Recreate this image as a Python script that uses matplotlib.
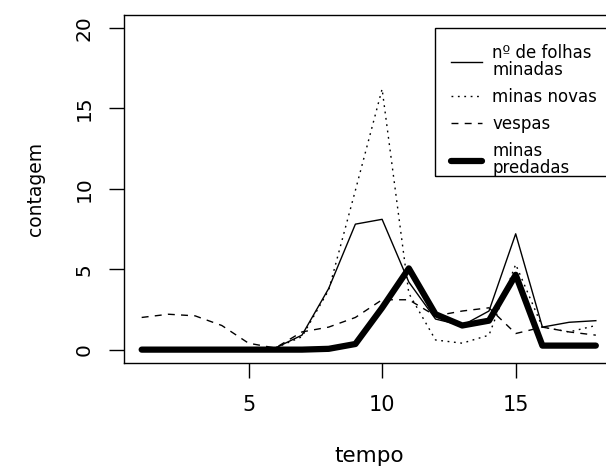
import matplotlib
matplotlib.use("Agg")
import matplotlib.pyplot as plt
from matplotlib.patches import Rectangle

# dados
tempo = list(range(1, 19))
folhas_minadas = [0, 0, 0, 0, 0, 0.1, 0.9, 3.8, 7.8, 8.1, 4.2, 1.9, 1.5, 2.4, 7.2, 1.4, 1.7, 1.8]
minas_novas = [0, 0, 0, 0, 0, 0.1, 0.8, 3.7, 9.9, 16.2, 3.5, 0.6, 0.4, 0.9, 5.3, 1.4, 1.1, 1.5]
vespas = [2.0, 2.2, 2.1, 1.5, 0.4, 0.1, 1.1, 1.4, 2.0, 3.1, 3.1, 2.1, 2.4, 2.6, 1.0, 1.4, 1.1, 0.9]
minas_predadas = [0, 0, 0, 0, 0, 0, 0, 0.05, 0.35, 2.6, 5.05, 2.2, 1.5, 1.8, 4.65, 0.25, 0.25, 0.25]

x_ticks = [5, 10, 15]
y_ticks = [0, 5, 10, 15, 20]
labels = ["nº de folhas\nminadas", "minas novas", "vespas", "minas\npredadas"]

W, H = 606, 471
fig = plt.figure(figsize=(W / 100, H / 100), dpi=100)
# eixo maior que a figura: a borda direita fica cortada como no original
ax = fig.add_axes([123.5 / W, 1 - 362.5 / H, (614 - 123.5) / W, (362.5 - 15) / H])

ax.plot(tempo, folhas_minadas, color="black", lw=1.0, label=labels[0])
ax.plot(tempo, minas_novas, color="black", lw=1.0, linestyle=(0, (1.3, 3.3)), label=labels[1])
ax.plot(tempo, vespas, color="black", lw=1.0, linestyle=(0, (5, 4.5)), label=labels[2])
ax.plot(tempo, minas_predadas, color="black", lw=4.5, solid_capstyle="round",
        solid_joinstyle="round", label=labels[3])

ax.set_xlim(0.32, 18.68)
ax.set_ylim(-0.8, 20.8)
ax.set_xticks(x_ticks)
ax.set_yticks(y_ticks)
ax.tick_params(axis="both", direction="out", length=10.5, width=1.0, color="black")
ax.tick_params(axis="x", labelsize=15, pad=13)
ax.tick_params(axis="y", labelsize=14.5, pad=11, labelrotation=90)
for t in ax.get_yticklabels():
    t.set_va("center")
for s in ax.spines.values():
    s.set_linewidth(1.0)

ax.set_xlabel("tempo", fontsize=15.5, labelpad=22)
ax.set_ylabel("contagem", fontsize=13.5, labelpad=21)

# legenda ao estilo do R: caixa fixa, texto pode passar da borda
leg = ax.legend(loc="upper left", bbox_to_anchor=(450.7 / W, 1 - 44 / H),
                bbox_transform=fig.transFigure, frameon=False, borderpad=0,
                borderaxespad=0, handlelength=1.9, handletextpad=0.6,
                labelspacing=0.55, fontsize=12)
for t in leg.get_texts():
    t.set_linespacing(0.9)
fig.add_artist(Rectangle((435 / W, 1 - 175.7 / H), (625 - 435) / W, (175.7 - 28.3) / H,
                         transform=fig.transFigure, fill=False, lw=1.0, ec="black"))

fig.savefig("out.png", dpi=100)
